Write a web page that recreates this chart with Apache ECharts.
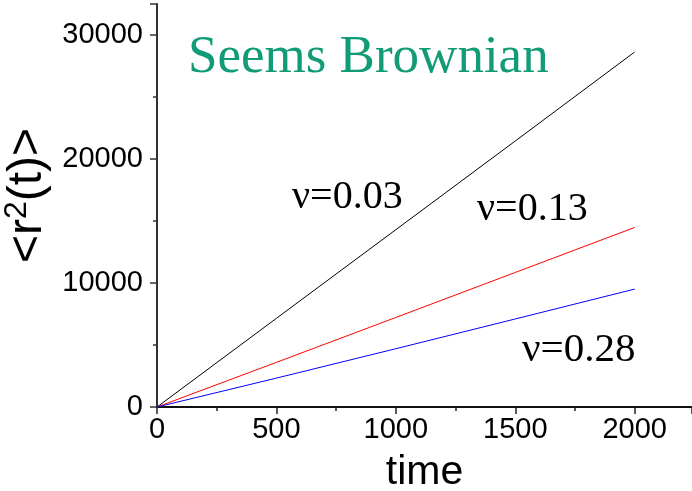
<!DOCTYPE html>
<html>
<head>
<meta charset="utf-8">
<script src="https://cdn.jsdelivr.net/npm/echarts@6/dist/echarts.min.js"></script>
<style>html,body{margin:0;padding:0;background:#fff}#c{width:692px;height:491px}</style>
</head>
<body>
<div id="c"></div>
<script>
var times = [0, 500, 1000, 1500, 2000];
var msdNu003 = [0, 7150, 14300, 21450, 28630];
var msdNu013 = [0, 3600, 7220, 10850, 14480];
var msdNu028 = [0, 2330, 4700, 7100, 9510];
var seriesNames = ['ν=0.03', 'ν=0.13', 'ν=0.28'];
var titleText = 'Seems Brownian';

function pairs(xs, ys) { return xs.map(function (x, i) { return [x, ys[i]]; }); }
function plain(v) { return String(v); }

var chart = echarts.init(document.getElementById('c'), null, { renderer: 'canvas' });
var axisFont = { color: '#000', fontFamily: 'Liberation Sans', fontSize: 29, formatter: plain };
chart.setOption({
  animation: false,
  backgroundColor: '#fff',
  grid: { left: 157, right: 0, top: 4, bottom: 84, containLabel: false, outerBoundsMode: 'none' },
  xAxis: {
    type: 'value', min: 0, max: 2240, interval: 500,
    name: 'time', nameLocation: 'middle', nameGap: 45,
    nameTextStyle: { color: '#000', fontFamily: 'Liberation Sans', fontSize: 41 },
    axisLine: { show: true, lineStyle: { color: '#111', width: 2 } },
    axisTick: { show: true, length: 7, inside: false, lineStyle: { color: '#222', width: 1.5 } },
    minorTick: { show: true, splitNumber: 2, length: 4, lineStyle: { color: '#222', width: 1.5 } },
    axisLabel: Object.assign({ margin: 8, showMaxLabel: false }, axisFont),
    splitLine: { show: false }
  },
  yAxis: {
    type: 'value', min: 0, max: 32500, interval: 10000,
    name: '<r{sup|2}(t)>', nameLocation: 'middle', nameGap: 97, nameRotate: 90,
    nameTextStyle: { color: '#000', fontFamily: 'Liberation Sans', fontSize: 48, padding: [0, 0, 0, 20],
      rich: { sup: { fontFamily: 'Liberation Sans', fontSize: 32, verticalAlign: 'top', padding: [0, 0, 20, 0], color: '#000' } } },
    axisLine: { show: true, lineStyle: { color: '#333', width: 2 } },
    axisTick: { show: true, length: 7, lineStyle: { color: '#333', width: 1.5 } },
    minorTick: { show: true, splitNumber: 2, length: 4, lineStyle: { color: '#333', width: 1.5 } },
    axisLabel: Object.assign({ margin: 14, showMaxLabel: false }, axisFont),
    splitLine: { show: false }
  },
  series: [
    { name: seriesNames[0], type: 'line', data: pairs(times, msdNu003), symbol: 'none', lineStyle: { color: '#000', width: 1 } },
    { name: seriesNames[1], type: 'line', data: pairs(times, msdNu013), symbol: 'none', lineStyle: { color: '#ff0000', width: 1 } },
    { name: seriesNames[2], type: 'line', data: pairs(times, msdNu028), symbol: 'none', lineStyle: { color: '#0000ff', width: 1 } }
  ],
  graphic: [
    { type: 'text', x: 188, y: 58.5, style: { text: titleText, fill: '#129b77', font: '53px "Liberation Serif"', verticalAlign: 'middle', align: 'left' } },
    { type: 'text', x: 292, y: 197, style: { text: seriesNames[0], fill: '#000', font: '40px "Liberation Serif"', verticalAlign: 'middle', align: 'left' } },
    { type: 'text', x: 477, y: 209.7, style: { text: seriesNames[1], fill: '#000', font: '40px "Liberation Serif"', verticalAlign: 'middle', align: 'left' } },
    { type: 'text', x: 522, y: 350, style: { text: seriesNames[2], fill: '#000', font: '41px "Liberation Serif"', verticalAlign: 'middle', align: 'left' } }
  ]
});
</script>
</body>
</html>
